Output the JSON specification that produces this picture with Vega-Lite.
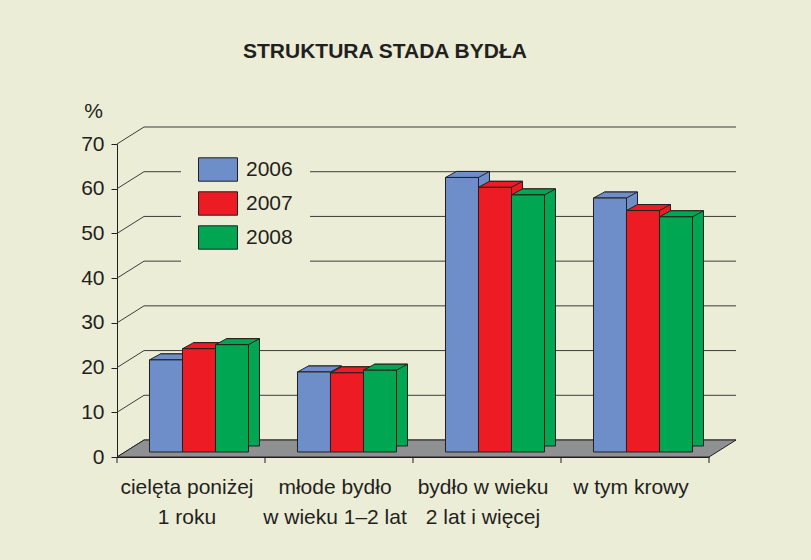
{
  "$schema": "https://vega.github.io/schema/vega-lite/v6.json",
  "autosize": "none",
  "width": 592,
  "height": 313,
  "padding": {"left": 117, "top": 144, "right": 102, "bottom": 103},
  "background": "#ECEDD6",
  "title": {
    "text": "STRUKTURA STADA BYDŁA",
    "anchor": "start",
    "frame": "group",
    "dx": 126,
    "offset": 38,
    "font": "Liberation Sans",
    "fontSize": 21,
    "fontWeight": "bold",
    "color": "#231F20"
  },
  "config": {
    "view": {"stroke": null},
    "font": "Liberation Sans"
  },
  "datasets": {
    "bars": [
      {"kategoria": "cielęta poniżej|1 roku", "rok": "2006", "procent": 20.6},
      {"kategoria": "cielęta poniżej|1 roku", "rok": "2007", "procent": 23.1},
      {"kategoria": "cielęta poniżej|1 roku", "rok": "2008", "procent": 24.0},
      {"kategoria": "młode bydło|w wieku 1–2 lat", "rok": "2006", "procent": 17.9},
      {"kategoria": "młode bydło|w wieku 1–2 lat", "rok": "2007", "procent": 17.7},
      {"kategoria": "młode bydło|w wieku 1–2 lat", "rok": "2008", "procent": 18.3},
      {"kategoria": "bydło w wieku|2 lat i więcej", "rok": "2006", "procent": 61.4},
      {"kategoria": "bydło w wieku|2 lat i więcej", "rok": "2007", "procent": 59.2},
      {"kategoria": "bydło w wieku|2 lat i więcej", "rok": "2008", "procent": 57.5},
      {"kategoria": "w tym krowy", "rok": "2006", "procent": 56.8},
      {"kategoria": "w tym krowy", "rok": "2007", "procent": 54.0},
      {"kategoria": "w tym krowy", "rok": "2008", "procent": 52.6}
    ],
    "grid": [
      {"v": 0}, {"v": 10}, {"v": 20}, {"v": 30}, {"v": 40}, {"v": 50}, {"v": 60}, {"v": 70}
    ]
  },
  "layer": [
    {
      "data": {"name": "grid"},
      "mark": {"type": "point", "shape": "M-74,0L-47,-17L545,-17", "filled": false, "size": 4, "opacity": 1, "stroke": "#3C3C3C", "strokeWidth": 1},
      "encoding": {
        "x": {"datum": "cielęta poniżej|1 roku", "type": "nominal"},
        "y": {"field": "v", "type": "quantitative"}
      }
    },
    {
      "data": {"values": [{"podloga": 0}]},
      "mark": {"type": "point", "shape": "M-74,0L518,0L545,-17L-47,-17Z", "filled": true, "size": 4, "opacity": 1, "fill": "#8F9092", "stroke": "#231F20", "strokeWidth": 1},
      "encoding": {
        "x": {"datum": "cielęta poniżej|1 roku", "type": "nominal"},
        "y": {"field": "podloga", "type": "quantitative"}
      }
    },
    {
      "data": {"values": [{"podloga": 0}]},
      "mark": {"type": "point", "shape": "M-74,0L-74,6M74,0L74,6M222,0L222,6M370,0L370,6M518,0L518,6", "filled": false, "size": 4, "opacity": 1, "stroke": "#231F20", "strokeWidth": 1},
      "encoding": {
        "x": {"datum": "cielęta poniżej|1 roku", "type": "nominal"},
        "y": {"field": "podloga", "type": "quantitative"}
      }
    },
    {
      "data": {"name": "bars"},
      "mark": {"type": "bar", "yOffset": -11, "stroke": "#231F20", "strokeWidth": 1},
      "encoding": {
        "x": {"field": "kategoria", "type": "nominal"},
        "xOffset": {"field": "rok", "type": "nominal", "scale": {"type": "band", "range": [19, 167], "paddingInner": 0, "paddingOuter": 0.742}},
        "y": {"field": "procent", "type": "quantitative"},
        "color": {"field": "rok", "type": "nominal"}
      }
    },
    {
      "data": {"name": "bars"},
      "mark": {"type": "point", "shape": "M-16.5,0L16.5,0L27.5,-6L-5.5,-6Z", "filled": true, "size": 4, "opacity": 1, "yOffset": -5, "stroke": "#231F20", "strokeWidth": 1},
      "encoding": {
        "x": {"field": "kategoria", "type": "nominal"},
        "xOffset": {"field": "rok", "type": "nominal", "scale": {"type": "band", "range": [8, 156], "paddingInner": 0, "paddingOuter": 0.742}},
        "y": {"field": "procent", "type": "quantitative"},
        "color": {"field": "rok", "type": "nominal"}
      }
    },
    {
      "data": {"name": "bars"},
      "mark": {"type": "bar", "yOffset": -5, "stroke": "#231F20", "strokeWidth": 1},
      "encoding": {
        "x": {
          "field": "kategoria",
          "type": "nominal",
          "sort": null,
          "scale": {
            "domain": ["cielęta poniżej|1 roku", "młode bydło|w wieku 1–2 lat", "bydło w wieku|2 lat i więcej", "w tym krowy"],
            "paddingInner": 0,
            "paddingOuter": 0
          },
          "axis": {
            "title": null,
            "labelAngle": 0,
            "labelAlign": "center",
            "labelExpr": "split(datum.label, '|')",
            "labelFont": "Liberation Sans",
            "labelFontSize": 21,
            "labelLineHeight": 30,
            "labelColor": "#231F20",
            "labelPadding": 24,
            "labelOffset": -4,
            "ticks": true,
            "tickOpacity": 0,
            "tickSize": 6,
            "domainColor": "#231F20",
            "grid": false
          }
        },
        "xOffset": {"field": "rok", "type": "nominal", "scale": {"type": "band", "range": [8, 156], "paddingInner": 0, "paddingOuter": 0.742}},
        "y": {
          "field": "procent",
          "type": "quantitative",
          "scale": {"domain": [0, 70], "nice": false},
          "axis": {
            "title": "%",
            "titleAngle": 0,
            "titleAlign": "center",
            "titleBaseline": "alphabetic",
            "titleX": -24,
            "titleY": -27,
            "titleFont": "Liberation Sans",
            "titleFontSize": 21,
            "titleFontWeight": "normal",
            "titleColor": "#231F20",
            "values": [0, 10, 20, 30, 40, 50, 60, 70],
            "labelFont": "Liberation Sans",
            "labelFontSize": 21,
            "labelColor": "#231F20",
            "labelPadding": 7,
            "tickSize": 6,
            "tickColor": "#231F20",
            "domainColor": "#231F20",
            "grid": false
          }
        },
        "color": {
          "field": "rok",
          "type": "nominal",
          "scale": {"domain": ["2006", "2007", "2008"], "range": ["#6E8EC9", "#ED1C24", "#00A651"]},
          "legend": {
            "title": null,
            "orient": "none",
            "legendX": 64,
            "legendY": -11.5,
            "padding": 17,
            "fillColor": "#ECEDD6",
            "symbolType": "M-1,-0.6L1,-0.6L1,0.6L-1,0.6Z",
            "symbolSize": 1521,
            "symbolStrokeColor": "#231F20",
            "symbolStrokeWidth": 1,
            "symbolOpacity": 1,
            "rowPadding": 0,
            "labelOffset": 8,
            "labelFont": "Liberation Sans",
            "labelFontSize": 21,
            "labelColor": "#231F20"
          }
        }
      }
    }
  ],
  "resolve": {"scale": {"xOffset": "independent"}}
}
